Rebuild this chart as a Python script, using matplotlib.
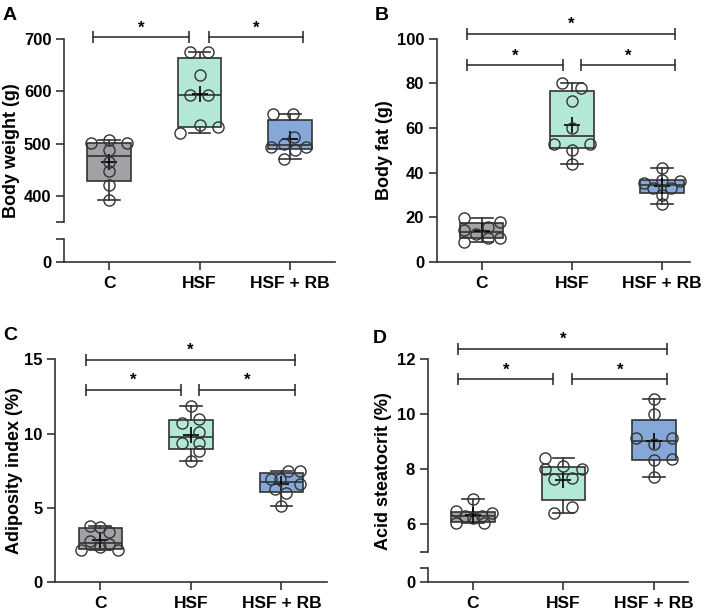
import numpy as np
import matplotlib
matplotlib.use("Agg")
import matplotlib.pyplot as plt

plt.rcParams['font.family'] = ['Liberation Sans', 'DejaVu Sans']
plt.rcParams['font.weight'] = 'bold'

groups = ["C", "HSF", "HSF + RB"]

# Panel A - Body weight (g)
a_C = [501, 507, 501, 487, 465, 447, 421, 393]
a_HSF = [675, 675, 631, 593, 593, 536, 520, 531]
a_RB = [556, 556, 513, 500, 493, 488, 494, 471]
# Panel B - Body fat (g)
b_C = [19.4, 14.2, 9.0, 12.3, 15.7, 10.8, 17.7, 10.5]
b_HSF = [80.0, 78.0, 72.2, 59.8, 52.8, 52.8, 50.1, 43.8]
b_RB = [41.9, 36.6, 35.4, 36.3, 33.2, 33.2, 29.9, 25.7]
# Panel C - Adiposity index (%)
c_C = [2.17, 3.81, 3.74, 2.80, 3.36, 2.40, 2.55, 2.17]
c_HSF = [11.86, 10.69, 10.96, 9.39, 10.09, 9.39, 8.83, 8.18]
c_RB = [7.51, 7.51, 6.95, 6.95, 6.59, 6.26, 6.03, 5.15]
# Panel D - Acid steatocrit (%)
d_C = [6.90, 6.47, 6.05, 6.29, 6.21, 6.29, 6.05, 6.39]
d_HSF = [8.42, 8.12, 8.0, 8.0, 7.64, 7.66, 6.42, 6.63]
d_RB = [10.55, 10.0, 9.12, 9.12, 8.93, 8.33, 8.36, 7.72]

# horizontal scatter offsets (style)
jit = {
    'A': [[-0.2, 0, 0.2, 0, 0, 0, 0, 0],
          [-0.11, 0.09, 0, -0.11, 0.09, 0, -0.22, 0.2],
          [-0.19, 0.04, 0.05, -0.07, -0.21, 0.06, 0.18, -0.07]],
    'B': [[-0.2, -0.2, -0.2, -0.06, 0.07, 0.07, 0.2, 0.2],
          [-0.115, 0.1, 0, 0, -0.2, 0.2, 0, 0],
          [0, 0, -0.2, 0.2, -0.1, 0.1, 0, 0]],
    'C': [[-0.21, -0.11, 0, -0.11, 0.1, 0, 0.1, 0.2],
          [0, -0.1, 0.09, -0.1, 0.09, 0.09, 0.09, 0],
          [0.2, 0.07, -0.02, -0.11, 0.2, -0.07, 0.05, 0]],
    'D': [[0, -0.19, -0.19, -0.09, 0, 0.1, 0.12, 0.21],
          [-0.2, 0, -0.2, 0.2, -0.1, 0.1, -0.1, 0.1],
          [0, 0, -0.2, 0.2, 0, 0, 0.2, 0]],
}

colors = ["#a2a2a6", "#b4e8d6", "#86a8d8"]
dark = "#333333"
W, H = 710, 610
fig = plt.figure(figsize=(W / 100, H / 100), dpi=100)


def add_ax(l, t, r, b):
    return fig.add_axes([l / W, 1 - b / H, (r - l) / W, (b - t) / H])


def style(ax):
    for s in ['top', 'right']:
        ax.spines[s].set_visible(False)
    for s in ['left', 'bottom']:
        ax.spines[s].set_color(dark)
        ax.spines[s].set_linewidth(1.2)
    ax.tick_params(axis='both', length=6, width=1.2, color=dark, labelsize=12, pad=3)
    ax.tick_params(axis='x', labelsize=12.5, pad=4)


def draw_boxes(ax, data, key):
    stats = []
    for vals in data:
        v = np.array(vals, float)
        q1, med, q3 = np.percentile(v, [25, 50, 75], method='weibull')
        stats.append(dict(med=med, q1=q1, q3=q3, whislo=v.min(), whishi=v.max(),
                          mean=v.mean(), fliers=[]))
    bp = ax.bxp(stats, positions=[0, 1, 2], widths=0.48, patch_artist=True,
                showmeans=True, showfliers=False, manage_ticks=False, capwidths=0.24,
                boxprops=dict(edgecolor=dark, linewidth=1.2),
                medianprops=dict(color=dark, linewidth=1.2),
                whiskerprops=dict(color=dark, linewidth=1.2),
                capprops=dict(color=dark, linewidth=1.2),
                meanprops=dict(marker='+', markeredgecolor='black', markersize=11,
                               markeredgewidth=1.2))
    for p, c in zip(bp['boxes'], colors):
        p.set_facecolor(c)
    for i, vals in enumerate(data):
        x = i + np.array(jit[key][i])
        ax.plot(x, vals, 'o', ms=8, mfc='none', mec=dark, mew=1.0,
                zorder=4, clip_on=False)


def bracket(ax, x1, x2, y):
    ax.plot([x1, x2], [y, y], color=dark, lw=1.2, clip_on=False)
    ax.plot([x1, x2], [y, y], ls='none', marker='|', ms=8, mew=1.2, color=dark,
            clip_on=False)
    ax.annotate('*', xy=((x1 + x2) / 2, y), xytext=(0, 1.5), textcoords='offset points',
                ha='center', va='bottom', fontsize=12, annotation_clip=False)


def xaxis(ax, xmax):
    ax.set_xlim(-0.5, xmax)
    ax.set_xticks([0, 1, 2])
    ax.set_xticklabels(groups, fontweight='bold')


# ---------- Panel A (broken) ----------
axA = add_ax(64, 39, 335, 222)
axA2 = add_ax(64, 239, 335, 262)
for ax in (axA, axA2):
    style(ax)
axA.spines['bottom'].set_visible(False)
axA.tick_params(axis='x', bottom=False, labelbottom=False)
axA.set_xlim(-0.5, 2.5)
axA.set_ylim(350, 700)
axA.set_yticks([350, 400, 500, 600, 700])
axA.set_yticklabels(['', '400', '500', '600', '700'])
draw_boxes(axA, [a_C, a_HSF, a_RB], 'A')
bracket(axA, -0.18, 0.88, 703)
bracket(axA, 1.1, 2.15, 703)
axA2.set_ylim(0, 1)
axA2.set_yticks([0, 1])
axA2.set_yticklabels(['0', ''])
xaxis(axA2, 2.5)

# ---------- Panel B ----------
axB = add_ax(436.7, 38.7, 690, 261.7)
style(axB)
axB.set_ylim(0, 100)
axB.set_yticks([0, 20, 40, 60, 80, 100])
draw_boxes(axB, [b_C, b_HSF, b_RB], 'B')
bracket(axB, -0.165, 0.9, 88)
bracket(axB, 1.1, 2.147, 88)
bracket(axB, -0.165, 2.147, 102)
xaxis(axB, 2.31)

# ---------- Panel C ----------
axC = add_ax(55, 359.3, 326.7, 582.3)
style(axC)
axC.set_ylim(0, 15)
axC.set_yticks([0, 5, 10, 15])
draw_boxes(axC, [c_C, c_HSF, c_RB], 'C')
bracket(axC, -0.16, 0.89, 12.94)
bracket(axC, 1.09, 2.15, 12.94)
bracket(axC, -0.16, 2.15, 14.95)
xaxis(axC, 2.5)

# ---------- Panel D (broken) ----------
axD = add_ax(427.7, 359, 688.3, 551.7)
axD2 = add_ax(427.7, 568.3, 688.3, 582.3)
for ax in (axD, axD2):
    style(ax)
axD.spines['bottom'].set_visible(False)
axD.tick_params(axis='x', bottom=False, labelbottom=False)
axD.set_xlim(-0.5, 2.38)
axD.set_ylim(5, 12)
axD.set_yticks([5, 6, 8, 10, 12])
axD.set_yticklabels(['', '6', '8', '10', '12'])
draw_boxes(axD, [d_C, d_HSF, d_RB], 'D')
bracket(axD, -0.16, 0.89, 11.26)
bracket(axD, 1.1, 2.15, 11.26)
bracket(axD, -0.16, 2.15, 12.38)
axD2.set_ylim(0, 1)
axD2.set_yticks([0, 1])
axD2.set_yticklabels(['0', ''])
xaxis(axD2, 2.38)

# y labels
for x, y, s in [(11.5, 150.5, 'Body weight (g)'), (384.5, 150, 'Body fat (g)'),
                (14.2, 470.8, 'Adiposity index (%)'), (384, 470.7, 'Acid steatocrit (%)')]:
    fig.text(x / W, 1 - y / H, s, rotation=90, ha='center', va='center',
             fontsize=13, fontweight='bold')

# panel letters
for x, y, s in [(3, 20, 'A'), (375, 20, 'B'), (3, 340, 'C'), (373, 343.3, 'D')]:
    fig.text(x / W, 1 - y / H, s, ha='left', va='baseline', fontsize=14,
             fontweight='bold')

fig.savefig('out.png', dpi=100)
